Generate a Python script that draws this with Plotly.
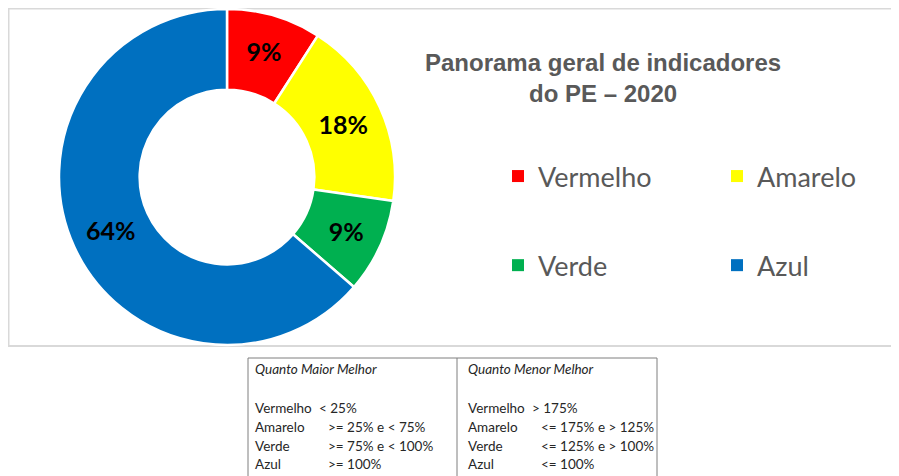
import html
import plotly.graph_objects as go

# the page body adds an 8px margin, so the figure is 8px smaller and shifted
OFF = 8
W, H = 899 - OFF, 476 - OFF

# donut data (slice counts: 1/11, 2/11, 1/11, 7/11)
categorias = ["Vermelho", "Amarelo", "Verde", "Azul"]
indicadores = [1, 2, 1, 7]
cores = ["#FF0000", "#FFFF00", "#00B050", "#0070C0"]

titulo = "Panorama geral de indicadores<br>do PE – 2020"

# criteria table below the chart
tabela_titulos = ["Quanto Maior Melhor", "Quanto Menor Melhor"]
faixas_maior = ["< 25%", ">= 25% e < 75%", ">= 75% e < 100%", ">= 100%"]
faixas_menor = ["> 175%", "<= 175% e > 125%", "<= 125% e > 100%", "<= 100%"]


# screen pixels -> paper fractions
def px(x):
    return (x - OFF) / W


def py(y):
    return 1 - (y - OFF) / H


fig = go.Figure()

fig.add_trace(
    go.Pie(
        labels=categorias,
        values=indicadores,
        marker=dict(colors=cores, line=dict(color="white", width=2.5)),
        hole=0.52,
        sort=False,
        direction="clockwise",
        rotation=0,
        texttemplate="%{percent:.0%}",
        textposition="inside",
        insidetextorientation="horizontal",
        textfont=dict(family="Lato", size=25, color="black", weight="bold"),
        showlegend=False,
        hoverinfo="label+percent",
        domain=dict(x=[px(59), px(395)], y=[py(345), py(9)]),
    )
)

# legend entries: two columns, two rows
for i, (cat, cor) in enumerate(zip(categorias, cores)):
    fig.add_trace(
        go.Scatter(
            x=[None],
            y=[None],
            mode="markers",
            marker=dict(symbol="square", size=12, color=cor),
            name=cat,
            legendgroup=cat,
            legend="legend" if i % 2 == 0 else "legend2",
        )
    )

leg_common = dict(
    orientation="v",
    font=dict(family="Lato", size=27, color="#595959"),
    tracegroupgap=51,
    bgcolor="rgba(0,0,0,0)",
    xanchor="left",
    yanchor="top",
    itemclick=False,
)

fig.update_layout(
    width=W,
    height=H,
    margin=dict(l=0, r=0, t=0, b=0),
    paper_bgcolor="white",
    plot_bgcolor="white",
    xaxis=dict(visible=False),
    yaxis=dict(visible=False),
    legend=dict(x=px(498), y=py(152), **leg_common),
    legend2=dict(x=px(717), y=py(152), **leg_common),
)

# chart frame
fig.add_shape(
    type="rect", xref="paper", yref="paper",
    x0=px(8.5), x1=px(915), y0=py(8.5), y1=py(346),
    line=dict(color="#D9D9D9", width=2), layer="below",
)

fig.add_annotation(
    text="<b>" + titulo + "</b>",
    xref="paper", yref="paper", x=px(603), y=py(78),
    xanchor="center", yanchor="middle",
    showarrow=False, align="center",
    font=dict(family="Liberation Sans", size=24, color="#595959"),
)

# criteria table
fig.add_shape(
    type="rect", xref="paper", yref="paper",
    x0=px(248), x1=px(657), y0=py(358), y1=py(500),
    line=dict(color="#7F7F7F", width=1),
)
fig.add_shape(
    type="line", xref="paper", yref="paper",
    x0=px(457), x1=px(457), y0=py(358), y1=py(500),
    line=dict(color="#7F7F7F", width=1),
)

tab_font = dict(family="Lato", size=13.5, color="#262626")
linhas_y = [408, 427, 446, 464]
recuo = [64, 73, 73, 73]
for x0, cab, faixas in [(253, tabela_titulos[0], faixas_maior), (466, tabela_titulos[1], faixas_menor)]:
    fig.add_annotation(
        text="<i>" + cab + "</i>", xref="paper", yref="paper",
        x=px(x0), y=py(369), xanchor="left", yanchor="middle",
        showarrow=False, font=tab_font,
    )
    for cat, faixa, yy, dx in zip(categorias, faixas, linhas_y, recuo):
        fig.add_annotation(
            text=cat, xref="paper", yref="paper",
            x=px(x0), y=py(yy), xanchor="left", yanchor="middle",
            showarrow=False, font=tab_font,
        )
        fig.add_annotation(
            text=html.escape(faixa), xref="paper", yref="paper",
            x=px(x0 + dx), y=py(yy), xanchor="left", yanchor="middle",
            showarrow=False, font=tab_font,
        )

fig.write_html("out.html")
